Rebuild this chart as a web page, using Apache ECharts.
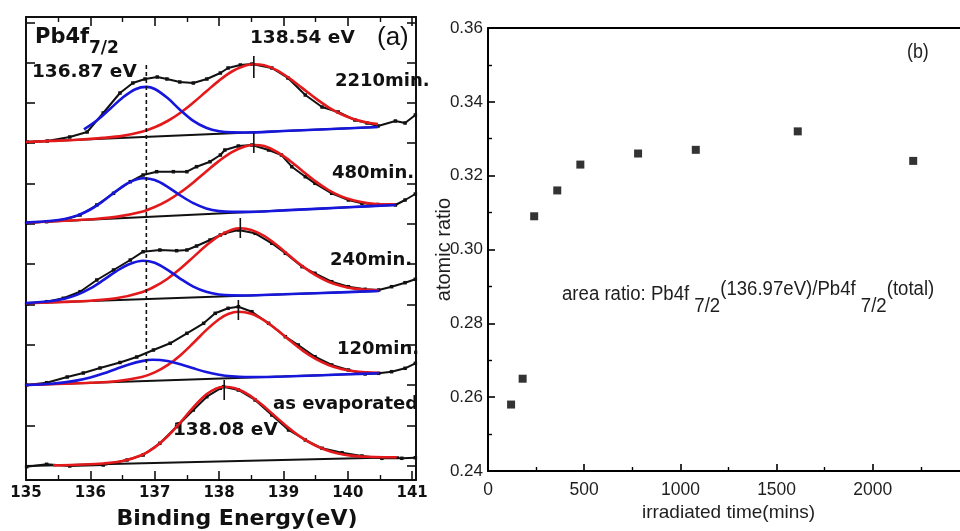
<!DOCTYPE html>
<html>
<head>
<meta charset="utf-8">
<script src="https://cdn.jsdelivr.net/npm/echarts@6/dist/echarts.min.js"></script>
<style>
  html, body { margin: 0; padding: 0; background: #ffffff; }
  #chart { width: 960px; height: 531px; }
</style>
</head>
<body>
<div id="chart"></div>
<script>
// ---------- Panel (a): Pb4f7/2 XPS spectra (binding energy in eV, stacked intensity, arb. units) ----------

// 2210 min
const s2210Data = [[135.02,338],[135.33,339],[135.68,343],[135.95,348],[136.20,367],[136.46,387],[136.66,397],[136.85,401],[137.04,403],[137.19,401],[137.39,398],[137.60,397],[137.81,401],[138.02,407],[138.14,412],[138.33,415],[138.51,416],[138.82,412],[139.07,402],[139.34,385],[139.60,373],[139.85,368],[140.11,360],[140.30,357],[140.47,354],[140.74,359],[140.89,357],[141.05,365]];
const s2210Base = [[135.0,338],[140.47,353]];
const s2210Blue = [[135.9,350.6],[136.1,359.4],[136.3,370.8],[136.5,382.3],[136.7,390.8],[136.87,393.1],[137.0,391.0],[137.2,381.9],[137.4,369.8],[137.6,359.1],[137.8,352.2],[138.0,348.7],[138.2,347.6],[138.4,347.5],[139.0,349.0],[140.47,353]];
const s2210Red = [[135.0,338],[135.4,339.1],[135.8,340.3],[136.2,342.1],[136.5,344.1],[136.8,348.2],[137.0,352.7],[137.2,359.0],[137.4,367.3],[137.6,377.4],[137.8,388.5],[138.0,399.4],[138.2,408.5],[138.4,414.2],[138.54,415.7],[138.7,414.7],[138.9,409.7],[139.1,401.4],[139.3,391.6],[139.5,381.6],[139.7,372.7],[139.9,365.7],[140.1,360.7],[140.3,357.5],[140.47,355.9]];

// 480 min
const s480Data = [[135.01,257.3],[135.32,258.3],[135.58,260],[135.84,265],[136.10,275],[136.36,286.7],[136.62,298.3],[136.82,305],[137.03,308.3],[137.29,308.3],[137.50,308.3],[137.65,313.3],[137.86,318.3],[138.02,325],[138.09,330],[138.30,334],[138.51,335],[138.77,330],[138.97,325],[139.13,313.3],[139.34,303.3],[139.49,296.7],[139.75,286.7],[140.01,280],[140.22,276.7],[140.47,275.5],[140.74,275],[140.89,280],[141.05,286]];
const s480Base = [[135.0,257.3],[140.74,275.0]];
const s480Blue = [[135.0,257.4],[135.4,259.2],[135.6,261.1],[135.8,264.6],[136.0,270.5],[136.2,279.0],[136.4,288.9],[136.6,297.4],[136.82,301.7],[137.0,299.9],[137.2,293.2],[137.4,284.5],[137.6,276.8],[137.8,271.6],[138.0,268.9],[138.2,268.1],[138.4,268.1],[139.0,269.6],[140.0,272.7],[140.74,275.0]];
const s480Red = [[135.0,257.3],[135.6,259.2],[136.0,260.7],[136.4,263.1],[136.8,268.3],[137.0,273.0],[137.2,279.4],[137.4,287.7],[137.6,297.6],[137.8,308.5],[138.0,319.1],[138.2,327.9],[138.4,333.5],[138.54,335.0],[138.7,333.9],[138.9,328.2],[139.1,319.3],[139.3,308.8],[139.5,298.6],[139.7,290.0],[139.9,283.6],[140.1,279.4],[140.3,277.0],[140.5,275.8],[140.74,275.6]];

// 240 min
const s240Data = [[135.01,176],[135.32,178.3],[135.58,181.7],[135.84,188.3],[136.10,200],[136.36,210],[136.62,220],[136.82,228.3],[137.08,230],[137.34,229.3],[137.50,230],[137.65,234],[137.86,240],[138.02,245],[138.09,246.7],[138.30,250],[138.56,246.7],[138.82,236.7],[139.03,226.7],[139.29,213.3],[139.49,206.7],[139.75,198.3],[140.01,193.3],[140.27,190.7],[140.48,190],[140.68,193.3],[140.89,197.3],[141.05,200.7]];
const s240Base = [[135.0,176.7],[140.48,189.0]];
const s240Blue = [[135.0,176.9],[135.4,179.0],[135.6,181.3],[135.8,185.4],[136.0,191.6],[136.2,199.8],[136.4,208.6],[136.6,215.8],[136.82,219.3],[137.0,217.2],[137.2,210.1],[137.4,201.2],[137.6,193.4],[137.8,188.2],[138.0,185.5],[138.2,184.6],[138.4,184.5],[139.0,185.7],[140.0,187.9],[140.48,189.0]];
const s240Red = [[135.0,176.7],[135.6,178.1],[136.0,179.3],[136.4,181.7],[136.8,187.8],[137.0,193.5],[137.2,201.3],[137.4,211.4],[137.6,222.9],[137.8,234.5],[138.0,244.2],[138.2,250.3],[138.33,251.7],[138.5,250.1],[138.7,244.1],[138.9,234.7],[139.1,224.0],[139.3,213.6],[139.5,204.8],[139.7,198.3],[139.9,194.0],[140.1,191.4],[140.3,190.2],[140.48,189.8]];

// 120 min
const s120Data = [[135.01,95],[135.32,97.3],[135.64,103],[135.89,107],[136.15,112],[136.46,117.5],[136.72,123],[136.98,130],[137.24,136.7],[137.50,146.7],[137.76,156.7],[137.94,166.7],[138.14,171.7],[138.30,173.3],[138.51,168.3],[138.77,156.7],[139.03,143.3],[139.23,135],[139.49,123.3],[139.75,115],[140.01,110],[140.27,106],[140.48,106.7],[140.68,108.3],[140.89,111.7],[141.05,116.7]];
const s120Base = [[135.0,95.0],[140.48,106.7]];
const s120Blue = [[135.0,95.0],[135.4,96.3],[135.6,97.6],[135.8,99.6],[136.0,102.5],[136.2,106.4],[136.4,111.0],[136.6,115.5],[136.8,118.9],[136.97,120.2],[137.2,119.0],[137.4,115.7],[137.6,111.7],[137.8,108.0],[138.0,105.3],[138.2,103.7],[138.4,103.0],[138.6,103.0],[139.0,103.5],[140.0,105.7],[140.48,106.7]];
const s120Red = [[135.0,95.0],[135.6,96.3],[136.0,97.2],[136.4,98.8],[136.8,103.0],[137.0,107.6],[137.2,114.8],[137.4,124.8],[137.6,137.0],[137.8,149.9],[138.0,160.8],[138.15,166.2],[138.3,168.3],[138.5,166.2],[138.7,159.7],[138.9,150.2],[139.1,139.5],[139.3,129.4],[139.5,121.1],[139.7,115.0],[139.9,111.0],[140.1,108.7],[140.3,107.7],[140.48,107.3]];

// as evaporated
const s0Data = [[135.01,13.3],[135.32,15.7],[135.68,14],[136.20,15],[136.57,20],[136.82,25],[137.08,36.7],[137.34,53.3],[137.60,70],[137.81,83.3],[138.02,91.7],[138.07,93.3],[138.30,90],[138.56,80],[138.82,65],[139.08,50],[139.34,40],[139.60,31.7],[139.91,27.3],[140.22,24],[140.53,21.7],[140.84,21.7],[141.05,22.3]];
const s0Base = [[135.0,14],[140.8,22.7]];
const s0Red = [[135.42,14.6],[135.8,15.3],[136.2,16.5],[136.5,18.9],[136.8,25.0],[137.0,32.6],[137.2,43.7],[137.4,57.7],[137.6,72.7],[137.8,85.4],[137.95,91.4],[138.08,93.3],[138.25,91.8],[138.45,85.7],[138.65,76.2],[138.85,65.0],[139.05,53.8],[139.25,43.9],[139.45,36.0],[139.65,30.3],[139.85,26.6],[140.05,24.4],[140.3,23.2],[140.55,22.8],[140.76,22.8]];

// peak position marks: [energy, lower, upper]
const peakMarks = [[138.54,402,424],[138.54,327,347],[138.33,242,262],[138.30,160,180],[138.08,80,100]];
// dashed reference line at the low-energy component
const refLine = [[136.87,110],[136.87,415]];
// energy axis and intensity tick positions
const energyMin = 135, energyMax = 141.06, energyStep = 1;
const intensityMax = 463;
const intensityTicks = [14,54,95,135,175,216,256,296,337,377,417,457];

// ---------- Panel (b): atomic ratio vs irradiation time ----------
const irrTime = [120, 180, 240, 360, 480, 780, 1080, 1610, 2210];
const atomicRatio = [0.258, 0.265, 0.309, 0.316, 0.323, 0.326, 0.327, 0.332, 0.324];
const ratioMin = 0.24, ratioMax = 0.36, ratioStep = 0.02;
const timeMin = 0, timeMax = 2500, timeStep = 500;

const FONT_A = "'DejaVu Sans', 'Liberation Sans', sans-serif";
const FONT_B = "'Liberation Sans', Arial, sans-serif";
const RED = '#e3191c';
const BLUE = '#1616dc';
const BLACK = '#111111';
const GREY = '#1e1e1e';

const spectra = [
  { data: s2210Data, base: s2210Base, red: s2210Red, blue: s2210Blue },
  { data: s480Data,  base: s480Base,  red: s480Red,  blue: s480Blue },
  { data: s240Data,  base: s240Base,  red: s240Red,  blue: s240Blue },
  { data: s120Data,  base: s120Base,  red: s120Red,  blue: s120Blue },
  { data: s0Data,    base: s0Base,    red: s0Red,    blue: null }
];

function curve(data, color, width, z, smooth) {
  return {
    type: 'line', xAxisIndex: 0, yAxisIndex: 0, data: data,
    showSymbol: false, smooth: smooth ? 0.35 : false, z: z,
    lineStyle: { color: color, width: width },
    itemStyle: { color: color }, silent: true
  };
}

const series = [];
spectra.forEach(function (s) {
  series.push({
    type: 'line', xAxisIndex: 0, yAxisIndex: 0, data: s.data, z: 2,
    symbol: 'rect', symbolSize: 3.5, showSymbol: true, showAllSymbol: true,
    lineStyle: { color: BLACK, width: 2 }, itemStyle: { color: BLACK }, silent: true
  });
  series.push(curve(s.base, BLACK, 2, 3, false));
  series.push(curve(s.red, RED, 2.6, 4, true));
  if (s.blue) series.push(curve(s.blue, BLUE, 2.6, 5, true));
});
peakMarks.forEach(function (m) {
  series.push(curve([[m[0], m[1]], [m[0], m[2]]], BLACK, 1.6, 6, false));
});
series.push({
  type: 'line', xAxisIndex: 0, yAxisIndex: 0, data: refLine, showSymbol: false, z: 6,
  lineStyle: { color: BLACK, width: 1.6, type: [4, 3] }, silent: true
});
series.push({
  type: 'scatter', xAxisIndex: 2, yAxisIndex: 2,
  data: irrTime.map(function (t, i) { return [t, atomicRatio[i]]; }),
  symbol: 'rect', symbolSize: 8, itemStyle: { color: '#000000' }, silent: true
});

const axisLineA = { show: true, onZero: false, lineStyle: { color: BLACK, width: 2 } };
const tickA = { show: true, inside: true, length: 9, lineStyle: { color: BLACK, width: 1.6 } };
const minorA = { show: true, splitNumber: 2, length: 5, lineStyle: { color: BLACK, width: 1.4 } };
const axisLineB = { show: true, onZero: false, lineStyle: { color: '#000', width: 2 } };
const tickB = { show: true, inside: true, length: 7, lineStyle: { color: '#000', width: 1.6 } };
const minorB = { show: true, splitNumber: 2, length: 4, lineStyle: { color: '#000', width: 1.4 } };

const option = {
  animation: false,
  backgroundColor: '#ffffff',
  grid: [
    { left: 26, top: 17, width: 390, height: 463, containLabel: false, outerBoundsMode: 'none' },
    { left: 488, top: 28, width: 481, height: 443, containLabel: false, outerBoundsMode: 'none' }
  ],
  xAxis: [
    {
      gridIndex: 0, type: 'value', position: 'bottom', min: energyMin, max: energyMax, interval: energyStep,
      axisLine: axisLineA, axisTick: tickA, minorTick: minorA, splitLine: { show: false },
      axisLabel: { show: true, margin: 6, color: BLACK, fontFamily: FONT_A, fontWeight: 'bold', fontSize: 15, showMaxLabel: false },
      name: 'Binding Energy(eV)', nameLocation: 'middle', nameGap: 28, nameMoveOverlap: false,
      nameTextStyle: { color: BLACK, fontFamily: FONT_A, fontWeight: 'bold', fontSize: 22, padding: [0, 0, 0, 32] }
    },
    {
      gridIndex: 0, type: 'value', position: 'top', min: energyMin, max: energyMax, interval: energyStep,
      axisLine: axisLineA, axisTick: tickA, minorTick: minorA, splitLine: { show: false },
      axisLabel: { show: false }
    },
    {
      gridIndex: 1, type: 'value', position: 'bottom', min: timeMin, max: timeMax, interval: timeStep,
      axisLine: axisLineB, axisTick: tickB, minorTick: minorB, splitLine: { show: false },
      axisLabel: { show: true, margin: 10, color: GREY, fontFamily: FONT_B, fontSize: 17.5, showMaxLabel: false,
        formatter: function (v) { return String(v); } },
      name: 'irradiated time(mins)', nameLocation: 'middle', nameGap: 32, nameMoveOverlap: false,
      nameTextStyle: { color: GREY, fontFamily: FONT_B, fontSize: 19 }
    },
    {
      gridIndex: 1, type: 'value', position: 'top', min: timeMin, max: timeMax, interval: timeStep,
      axisLine: axisLineB, axisTick: { show: false }, splitLine: { show: false }, axisLabel: { show: false }
    }
  ],
  yAxis: [
    {
      gridIndex: 0, type: 'value', position: 'left', min: 0, max: intensityMax,
      axisLine: axisLineA, splitLine: { show: false }, axisLabel: { show: false },
      axisTick: Object.assign({}, tickA, { customValues: intensityTicks })
    },
    {
      gridIndex: 0, type: 'value', position: 'right', min: 0, max: intensityMax,
      axisLine: axisLineA, splitLine: { show: false }, axisLabel: { show: false },
      axisTick: Object.assign({}, tickA, { customValues: intensityTicks })
    },
    {
      gridIndex: 1, type: 'value', position: 'left', min: ratioMin, max: ratioMax, interval: ratioStep,
      axisLine: axisLineB, axisTick: tickB, minorTick: minorB, splitLine: { show: false },
      axisLabel: { show: true, margin: 5, color: GREY, fontFamily: FONT_B, fontSize: 17,
        formatter: function (v) { return v.toFixed(2); } },
      name: 'atomic ratio', nameLocation: 'middle', nameGap: 34, nameMoveOverlap: false,
      nameTextStyle: { color: GREY, fontFamily: FONT_B, fontSize: 20 }
    }
  ],
  series: series,
  graphic: [
    { type: 'text', left: 35, top: 27, style: { text: 'Pb4f', fontFamily: FONT_A, fontWeight: 'bold', fontSize: 21, fill: BLACK } },
    { type: 'text', left: 89, top: 40, style: { text: '7/2', fontFamily: FONT_A, fontWeight: 'bold', fontSize: 17, fill: BLACK } },
    { type: 'text', left: 250, top: 29, style: { text: '138.54 eV', fontFamily: FONT_A, fontWeight: 'bold', fontSize: 18.5, fill: BLACK } },
    { type: 'text', left: 377, top: 25, style: { text: '(a)', fontFamily: "'Liberation Sans', sans-serif", fontSize: 26, fill: BLACK } },
    { type: 'text', left: 32, top: 63, style: { text: '136.87 eV', fontFamily: FONT_A, fontWeight: 'bold', fontSize: 18.5, fill: BLACK } },
    { type: 'text', left: 335, top: 72, style: { text: '2210min.', fontFamily: FONT_A, fontWeight: 'bold', fontSize: 18, fill: BLACK } },
    { type: 'text', left: 332, top: 164, style: { text: '480min.', fontFamily: FONT_A, fontWeight: 'bold', fontSize: 18, fill: BLACK } },
    { type: 'text', left: 330, top: 251, style: { text: '240min.', fontFamily: FONT_A, fontWeight: 'bold', fontSize: 18, fill: BLACK } },
    { type: 'text', left: 337, top: 340, style: { text: '120min.', fontFamily: FONT_A, fontWeight: 'bold', fontSize: 18, fill: BLACK } },
    { type: 'text', left: 273, top: 395, style: { text: 'as evaporated', fontFamily: FONT_A, fontWeight: 'bold', fontSize: 18, fill: BLACK } },
    { type: 'text', left: 173, top: 421, style: { text: '138.08 eV', fontFamily: FONT_A, fontWeight: 'bold', fontSize: 18.5, fill: BLACK } },
    { type: 'text', x: 907, y: 42, scaleX: 0.85, originX: 0, originY: 0,
      style: { text: '(b)', fontFamily: FONT_B, fontSize: 21, fill: GREY } },
    {
      type: 'text', x: 562, y: 272, scaleX: 0.93, originX: 0, originY: 0,
      style: {
        text: '{n|area ratio: Pb4f }{s|7/2}{u|(136.97eV)/Pb4f }{s|7/2}{u|(total)}',
        fontFamily: FONT_B, fontSize: 20, fill: GREY,
        rich: {
          n: { fontFamily: FONT_B, fontSize: 20, fill: GREY, verticalAlign: 'middle', padding: [0, 0, 0, 0] },
          s: { fontFamily: FONT_B, fontSize: 20, fill: GREY, verticalAlign: 'middle', padding: [24, 0, 0, 0] },
          u: { fontFamily: FONT_B, fontSize: 20, fill: GREY, verticalAlign: 'middle', padding: [0, 0, 10, 0] }
        }
      }
    }
  ]
};

const chart = echarts.init(document.getElementById('chart'), null, { renderer: 'canvas' });
chart.setOption(option);
</script>
</body>
</html>
